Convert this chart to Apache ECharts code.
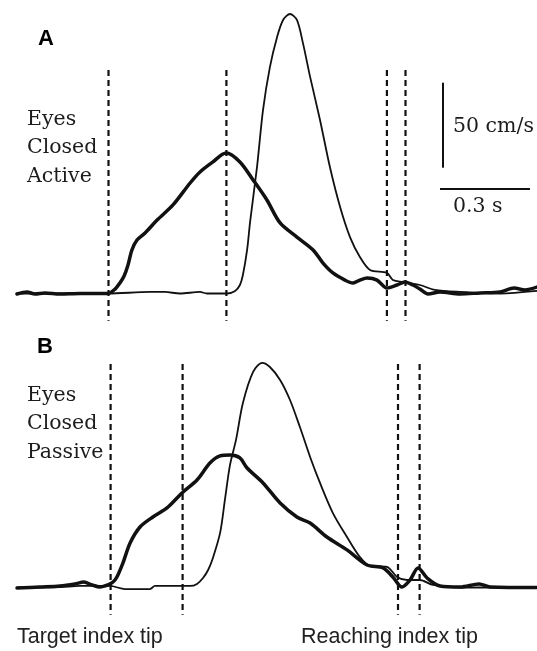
<!DOCTYPE html>
<html>
<head>
<meta charset="utf-8">
<script src="https://cdn.jsdelivr.net/npm/echarts@6/dist/echarts.min.js"></script>
<style>
html,body{margin:0;padding:0;background:#fff;}
#chart{width:537px;height:651px;}
</style>
</head>
<body>
<div id="chart"></div>
<script>
// time (s), velocity (cm/s)
const targetActive = [[0,-0.3],[0.033,0.9],[0.06,-0.3],[0.093,0.3],[0.143,-0.3],[0.21,0],[0.303,0],[0.327,2.6],[0.343,6.2],[0.357,10.3],[0.37,16.8],[0.383,25.6],[0.4,31.5],[0.427,35.6],[0.467,43.2],[0.52,52.1],[0.577,65],[0.61,71.5],[0.653,77.4],[0.697,82.6],[0.743,77.4],[0.787,66.8],[0.833,55],[0.877,41.5],[0.933,33.2],[0.987,25.6],[1.02,17.9],[1.053,12.1],[1.093,7.9],[1.12,6.2],[1.143,7.9],[1.167,9.1],[1.2,7.9],[1.233,3.2],[1.267,5],[1.293,6.8],[1.32,5],[1.343,2.6],[1.37,-0.3],[1.41,0.9],[1.477,-0.3],[1.543,0.3],[1.61,0.9],[1.657,3.2],[1.693,2.1],[1.733,3.8]];
const reachingActive = [[0,0],[0.303,0],[0.443,0.9],[0.493,0.9],[0.543,0],[0.61,0.9],[0.633,0],[0.7,0],[0.727,1.5],[0.743,5],[0.753,10.9],[0.767,25.6],[0.777,42.1],[0.8,74.4],[0.82,107.9],[0.843,133.2],[0.867,150.9],[0.887,160.9],[0.91,164.4],[0.933,160.9],[0.953,147.4],[0.977,127.4],[1.01,102.1],[1.043,74.4],[1.077,50.9],[1.11,33.2],[1.143,21.5],[1.177,13.8],[1.233,12.1],[1.253,7.9],[1.287,6.8],[1.343,5],[1.393,2.1],[1.477,0.9],[1.61,0],[1.733,1.5]];
const targetPassive = [[0,-0.3],[0.077,0.3],[0.143,0.9],[0.193,2.1],[0.223,3.2],[0.25,1.5],[0.277,0.3],[0.303,1.5],[0.32,3.2],[0.333,6.2],[0.353,14.4],[0.377,26.2],[0.41,35.6],[0.453,41.5],[0.5,46.8],[0.55,55.6],[0.6,63.2],[0.643,73.2],[0.677,77.4],[0.71,77.9],[0.743,76.2],[0.767,70.3],[0.82,61.5],[0.877,49.7],[0.933,41.5],[0.977,37.9],[1.033,29.7],[1.1,22.1],[1.167,13.2],[1.22,11.5],[1.253,6.2],[1.283,0.3],[1.31,4.4],[1.337,11.5],[1.367,5.6],[1.41,0.9],[1.477,0.3],[1.54,2.1],[1.577,0.3],[1.733,0]];
const reachingPassive = [[0,0],[0.143,0.3],[0.21,0.9],[0.31,0.9],[0.36,-0.9],[0.443,-0.9],[0.46,0.9],[0.577,0.9],[0.6,2.1],[0.62,5.6],[0.637,10.3],[0.653,17.4],[0.677,32.1],[0.693,51.5],[0.71,72.1],[0.73,86.8],[0.753,108.5],[0.787,126.8],[0.817,132.1],[0.843,129.7],[0.877,122.1],[0.91,110.3],[0.943,94.4],[0.977,76.8],[1.01,61.5],[1.053,43.8],[1.1,29.7],[1.143,17.9],[1.177,12.6],[1.233,12.1],[1.267,6.2],[1.3,4.4],[1.343,4.4],[1.387,1.5],[1.477,0],[1.733,0]];
const eventsActive = [0.305, 0.698, 1.233, 1.295];
const eventsPassive = [0.312, 0.552, 1.27, 1.342];
const scaleVelocity = 50;   // cm/s
const scaleTime = 0.3;      // s
const panelLabels = ['A', 'B'];
const conditionActive = ['Eyes', 'Closed', 'Active'];
const conditionPassive = ['Eyes', 'Closed', 'Passive'];
const traceLabels = ['Target index tip', 'Reaching index tip'];

const chart = echarts.init(document.getElementById('chart'), null, {renderer: 'canvas'});

const ink = '#111';
const dashTop = 131.5, dashBottom = -16;
function traceSeries(data, idx, width) {
  return {type: 'line', xAxisIndex: idx, yAxisIndex: idx, data: data, symbol: 'none',
    smooth: 0.3, silent: true, animation: false, clip: false,
    lineStyle: {color: ink, width: width, cap: 'round', join: 'round'}};
}
function eventSeries(t, idx) {
  return {type: 'line', xAxisIndex: idx, yAxisIndex: idx, data: [[t, dashTop], [t, dashBottom]],
    symbol: 'none', silent: true, animation: false, clip: false,
    lineStyle: {color: ink, width: 2.2, type: [6, 4]}};
}
const series = [];
eventsActive.forEach(t => series.push(eventSeries(t, 0)));
eventsPassive.forEach(t => series.push(eventSeries(t, 1)));
series.push(traceSeries(reachingActive, 0, 1.8));
series.push(traceSeries(targetActive, 0, 3.5));
series.push(traceSeries(reachingPassive, 1, 1.8));
series.push(traceSeries(targetPassive, 1, 3.5));
// scale bars
const barX = 1.42, barV0 = 74;
series.push({type: 'line', xAxisIndex: 0, yAxisIndex: 0, symbol: 'none', silent: true, animation: false, clip: false,
  data: [[barX, barV0], [barX, barV0 + scaleVelocity]], lineStyle: {color: ink, width: 2}});
const hbT0 = 1.41, hbV = 61.5;
series.push({type: 'line', xAxisIndex: 0, yAxisIndex: 0, symbol: 'none', silent: true, animation: false, clip: false,
  data: [[hbT0, hbV], [hbT0 + scaleTime, hbV]], lineStyle: {color: ink, width: 2}});

const serifFont = '20.5px "DejaVu Serif", serif';
const sansFont = '21.5px "Liberation Sans", Arial, sans-serif';
const graphics = [];
function addText(x, y, text, font, color) {
  graphics.push({type: 'text', x: x, y: y, silent: true,
    style: {text: text, font: font, fill: color || ink, textVerticalAlign: 'bottom', textBaseline: 'alphabetic'}});
}
addText(38, 50, panelLabels[0], 'bold 22px "Liberation Sans", Arial, sans-serif', '#000');
addText(37, 358, panelLabels[1], 'bold 22px "Liberation Sans", Arial, sans-serif', '#000');
conditionActive.forEach((s, i) => addText(27, 130 + i * 28.5, s, serifFont, '#1c1c1c'));
conditionPassive.forEach((s, i) => addText(27, 406 + i * 28.5, s, serifFont, '#1c1c1c'));
addText(453, 137, scaleVelocity + ' cm/s', serifFont, '#1c1c1c');
addText(453, 217, scaleTime + ' s', serifFont, '#1c1c1c');
addText(17, 648, traceLabels[0], sansFont, '#222');
addText(301, 648, traceLabels[1], sansFont, '#222');

chart.setOption({
  animation: false,
  backgroundColor: '#fff',
  grid: [
    {left: 17, width: 520, top: 4.5, height: 323},
    {left: 17, width: 520, top: 298.5, height: 323}
  ],
  xAxis: [
    {type: 'value', gridIndex: 0, min: 0, max: 1.7333, show: false},
    {type: 'value', gridIndex: 1, min: 0, max: 1.7333, show: false}
  ],
  yAxis: [
    {type: 'value', gridIndex: 0, min: -20, max: 170, show: false},
    {type: 'value', gridIndex: 1, min: -20, max: 170, show: false}
  ],
  series: series,
  graphic: graphics
});
</script>
</body>
</html>
